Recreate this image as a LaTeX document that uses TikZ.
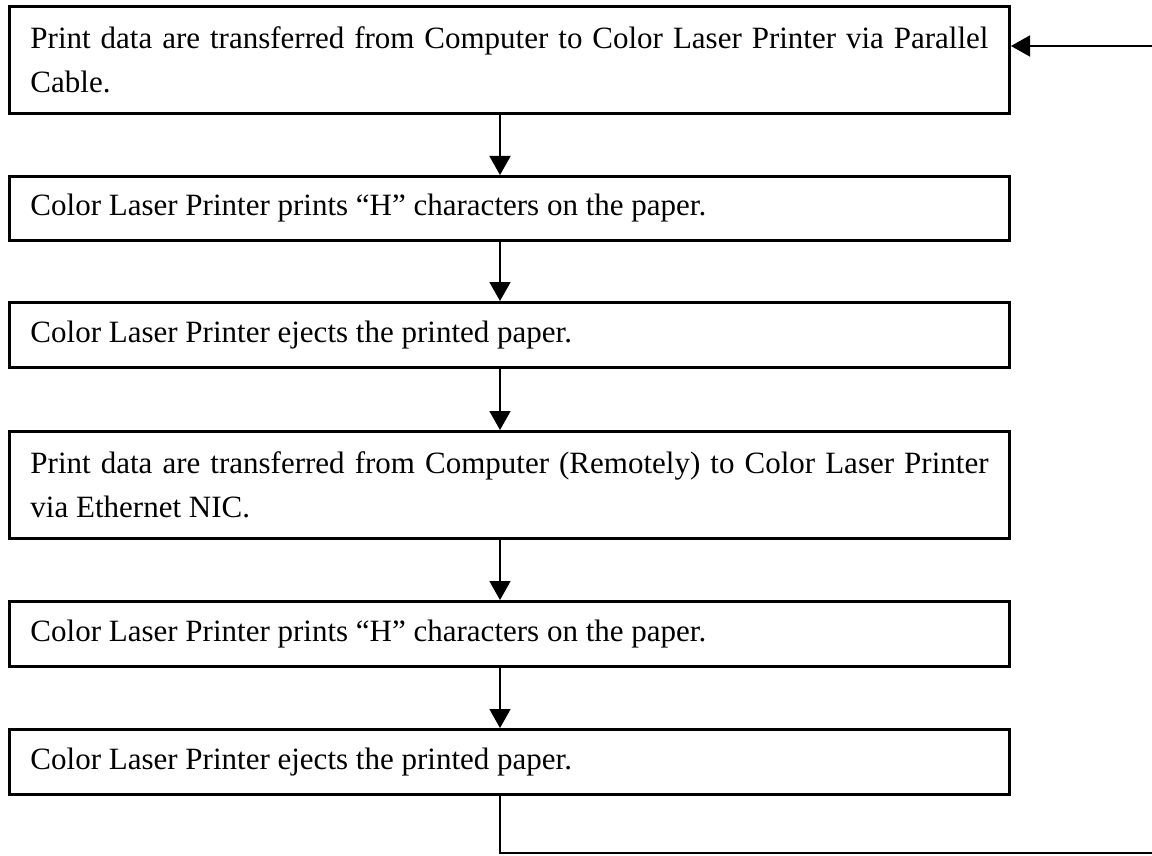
\documentclass[tikz,border=0pt]{standalone}
\usepackage{fontspec}
\setmainfont{Liberation Serif}
\usetikzlibrary{arrows.meta}

\begin{document}
\begin{tikzpicture}[x=1pt, y=-1pt,
    stepbox/.style={draw, line width=3pt, rectangle, anchor=north west,
        minimum width=1000pt, text width=958pt, align=justify,
        inner xsep=0pt, inner ysep=0pt,
        font=\fontsize{31}{44}\selectfont},
    flow/.style={line width=1.8pt, -{Triangle[length=19pt, width=21pt]}}]
    \useasboundingbox (0,0) rectangle (1152,856);
    \clip (0,0) rectangle (1152,856);
    \node[stepbox, minimum height=107pt] (send1) at (8,5) {Print data are transferred from Computer to Color Laser Printer via Parallel\linebreak Cable.};
    \node[stepbox, minimum height=64pt] (print1) at (8,175) {Color Laser Printer prints “H” characters on the paper.};
    \node[stepbox, minimum height=65pt] (eject1) at (8,301) {Color Laser Printer ejects the printed paper.};
    \node[stepbox, minimum height=107pt] (send2) at (8,430) {Print data are transferred from Computer (Remotely) to Color Laser Printer\linebreak via Ethernet NIC.};
    \node[stepbox, minimum height=65pt] (print2) at (8,600) {Color Laser Printer prints “H” characters on the paper.};
    \node[stepbox, minimum height=65pt] (eject2) at (8,728) {Color Laser Printer ejects the printed paper.};
    \coordinate (spine) at (500,0);
    \path (send1.south -| spine) edge[flow] (print1.north -| spine);
    \path (print1.south -| spine) edge[flow] (eject1.north -| spine);
    \path (eject1.south -| spine) edge[flow] (send2.north -| spine);
    \path (send2.south -| spine) edge[flow] (print2.north -| spine);
    \path (print2.south -| spine) edge[flow] (eject2.north -| spine);
    % loop back to the first step
    \coordinate (back1) at (500,853);
    \coordinate (back2) at (1162,853);
    \coordinate (back3) at (1162,46);
    \draw[flow] (eject2.south -| spine) -- (back1) -- (back2) -- (back3) -- (back3 -| send1.east);
\end{tikzpicture}
\end{document}
